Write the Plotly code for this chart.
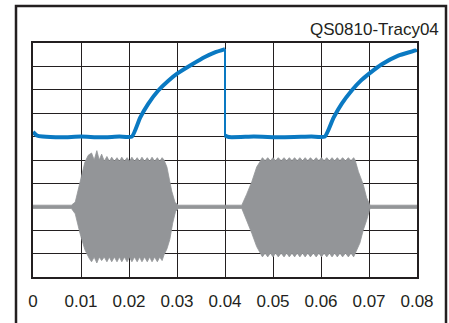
import plotly.graph_objects as go

# ---- data (x in seconds, y in screen divisions 0..10) ----
tick_vals = [0, 0.01, 0.02, 0.03, 0.04, 0.05, 0.06, 0.07, 0.08]
tick_text = ["0", "0.01", "0.02", "0.03", "0.04", "0.05", "0.06", "0.07", "0.08"]

blue1_x = [0.0, 0.0008, 0.002, 0.006, 0.010, 0.014, 0.018, 0.0206, 0.0223, 0.0240,
           0.0261, 0.0282, 0.0301, 0.0331, 0.0358, 0.0379, 0.0400]
blue1_y = [6.2, 6.05, 6.0, 5.97, 6.0, 5.97, 6.0, 6.0, 6.8, 7.4,
           7.97, 8.39, 8.7, 9.08, 9.4, 9.6, 9.74]
drop_x = [0.0400, 0.0400]
drop_y = [9.74, 6.0]
blue2_x = [0.0400, 0.0408, 0.046, 0.052, 0.058, 0.0608, 0.0626, 0.0643, 0.0664,
           0.0683, 0.0701, 0.0726, 0.0761, 0.0799, 0.0800]
blue2_y = [6.05, 5.98, 6.0, 5.97, 6.0, 6.0, 6.8, 7.4, 7.97,
           8.39, 8.7, 9.08, 9.46, 9.7, 9.72]

gray_top_x = [0.0, 0.0080, 0.0088, 0.0098, 0.0108, 0.0115,
              0.0122, 0.01275, 0.0133, 0.0138, 0.0143, 0.01485, 0.0154, 0.0159,
              0.0164, 0.01695, 0.0175, 0.018, 0.0185, 0.01905, 0.0196, 0.0201,
              0.0206, 0.02115, 0.0217, 0.0222, 0.0227, 0.02325, 0.0238, 0.0243,
              0.0248, 0.02535, 0.0259, 0.0264, 0.0269,
              0.0273, 0.0279, 0.0289, 0.0296, 0.0303,
              0.0435, 0.0445, 0.0456, 0.0466, 0.0474,
              0.0478, 0.04835, 0.0489, 0.04945, 0.0500, 0.05055, 0.0511, 0.0517,
              0.0523, 0.05285, 0.0534, 0.05395, 0.0545, 0.05505, 0.0556, 0.05615,
              0.0567, 0.05725, 0.0578, 0.0584, 0.0590, 0.05955, 0.0601, 0.06065,
              0.0612, 0.06175, 0.0623, 0.06285, 0.0634, 0.06395, 0.0645, 0.0651,
              0.0657, 0.06625, 0.0668,
              0.0671, 0.0678, 0.0688, 0.0695, 0.0702, 0.0800]
gray_top_y = [3.07, 3.07, 3.2, 4.0, 4.9, 5.2,
              5.3, 5.0, 5.4, 5.0, 5.25, 4.95, 5.15, 4.95,
              5.12, 4.95, 5.1, 4.95, 5.12, 4.95, 5.1, 4.95,
              5.12, 4.95, 5.1, 4.95, 5.12, 4.95, 5.1, 4.95,
              5.12, 4.95, 5.1, 4.95, 5.1,
              5.0, 4.7, 3.67, 3.18, 3.07,
              3.07, 3.53, 4.08, 4.7, 5.0,
              5.1, 4.97, 5.1, 4.97, 5.1, 4.97, 5.1, 4.97,
              5.1, 4.97, 5.1, 4.97, 5.1, 4.97, 5.1, 4.97,
              5.1, 4.97, 5.1, 4.97, 5.1, 4.97, 5.1, 4.97,
              5.1, 4.97, 5.1, 4.97, 5.1, 4.97, 5.1, 4.97,
              5.1, 4.97, 5.1,
              5.0, 4.5, 3.95, 3.39, 3.07, 3.07]

gray_bot_x = [0.0, 0.0080, 0.0088, 0.0098, 0.0108, 0.0117,
              0.0122, 0.01275, 0.0133, 0.0138, 0.0143, 0.01485, 0.0154, 0.0159,
              0.0164, 0.01695, 0.0175, 0.018, 0.0185, 0.01905, 0.0196, 0.0201,
              0.0206, 0.02115, 0.0217, 0.0222, 0.0227, 0.02325, 0.0238, 0.0243,
              0.0248, 0.02535, 0.0259, 0.0264, 0.0269,
              0.0273, 0.0279, 0.0285, 0.0291, 0.0297, 0.0303,
              0.0435, 0.0445, 0.0456, 0.0466, 0.0474,
              0.0478, 0.04835, 0.0489, 0.04945, 0.0500, 0.05055, 0.0511, 0.0517,
              0.0523, 0.05285, 0.0534, 0.05395, 0.0545, 0.05505, 0.0556, 0.05615,
              0.0567, 0.05725, 0.0578, 0.0584, 0.0590, 0.05955, 0.0601, 0.06065,
              0.0612, 0.06175, 0.0623, 0.06285, 0.0634, 0.06395, 0.0645, 0.0651,
              0.0657, 0.06625, 0.0668,
              0.0674, 0.0681, 0.0688, 0.0695, 0.0702, 0.0800]
gray_bot_y = [2.93, 2.93, 2.7, 1.86, 1.17, 0.8,
              0.65, 0.85, 0.6, 0.85, 0.7, 0.85, 0.65, 0.85,
              0.65, 0.85, 0.65, 0.85, 0.65, 0.85, 0.65, 0.85,
              0.65, 0.85, 0.65, 0.85, 0.65, 0.85, 0.65, 0.85,
              0.65, 0.85, 0.65, 0.85, 0.7,
              0.95, 1.2, 1.6, 2.3, 2.8, 2.93,
              2.93, 2.42, 1.86, 1.3, 1.0,
              0.86, 1.02, 0.86, 1.02, 0.86, 1.02, 0.86, 1.02,
              0.86, 1.02, 0.86, 1.02, 0.86, 1.02, 0.86, 1.02,
              0.86, 1.02, 0.86, 1.02, 0.86, 1.02, 0.86, 1.02,
              0.86, 1.02, 0.86, 1.02, 0.86, 1.02, 0.86, 1.02,
              0.86, 1.02, 0.86,
              1.1, 1.45, 2.0, 2.42, 2.93, 2.93]

title_text = "QS0810-Tracy04"

BLUE = "#0a79c2"
GRAY = "#939598"
INK = "#231f20"
FONT = "Liberation Sans, Arial, sans-serif"

fig = go.Figure()

fig.add_trace(go.Scatter(
    x=gray_top_x + gray_bot_x[::-1],
    y=gray_top_y + gray_bot_y[::-1],
    mode="lines", fill="toself", fillcolor=GRAY,
    line=dict(color=GRAY, width=0.8), hoverinfo="skip", showlegend=False))

fig.add_trace(go.Scatter(x=blue1_x, y=blue1_y, mode="lines",
                         line=dict(color=BLUE, width=4, shape="spline", smoothing=0.5),
                         showlegend=False))
fig.add_trace(go.Scatter(x=drop_x, y=drop_y, mode="lines",
                         line=dict(color=BLUE, width=2), showlegend=False))
fig.add_trace(go.Scatter(x=blue2_x, y=blue2_y, mode="lines",
                         line=dict(color=BLUE, width=4, shape="spline", smoothing=0.5),
                         showlegend=False))

# plot area: x 33..417, y 43..283
fig.update_layout(
    width=449, height=323,
    margin=dict(l=33, r=32, t=43, b=40),
    paper_bgcolor="white", plot_bgcolor="white",
    showlegend=False,
    xaxis=dict(range=[0, 0.08], tickvals=tick_vals, ticktext=tick_text,
               showgrid=True, gridcolor=INK, gridwidth=1,
               showline=True, linecolor=INK, linewidth=2, mirror=True,
               zeroline=False, ticks="outside", ticklen=8, tickcolor="rgba(0,0,0,0)",
               tickfont=dict(family=FONT, size=17, color=INK)),
    yaxis=dict(range=[0, 10], dtick=1, showticklabels=False,
               showgrid=True, gridcolor=INK, gridwidth=1,
               showline=True, linecolor=INK, linewidth=2, mirror=True,
               zeroline=False, ticks=""),
    shapes=[dict(type="rect", xref="paper", yref="paper",
                 x0=(16 - 33) / 384, x1=(446 - 33) / 384,
                 y0=(283 - 340) / 240, y1=(283 - 5) / 240,
                 line=dict(color=INK, width=2.5), fillcolor="rgba(0,0,0,0)",
                 layer="below")],
    annotations=[dict(text=title_text, xref="paper", yref="paper",
                      x=(441 - 33) / 384, y=(283 - 29) / 240,
                      xanchor="right", yanchor="middle", showarrow=False,
                      font=dict(family=FONT, size=17, color=INK))],
)

fig.write_html("out.html")
